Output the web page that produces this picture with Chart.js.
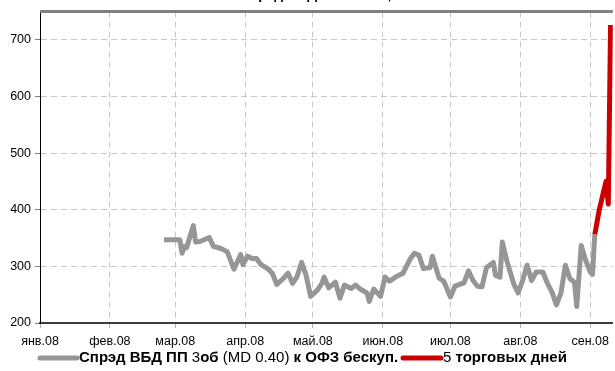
<!DOCTYPE html>
<html>
<head>
<meta charset="utf-8">
<script src="https://cdn.jsdelivr.net/npm/chart.js@4/dist/chart.umd.min.js"></script>
<style>
  html, body { margin: 0; padding: 0; background: #fff; }
  canvas { display: block; }
</style>
</head>
<body>
<canvas id="chart" width="615" height="371"></canvas>
<script>
// Данные (год 2008, даты в формате ММ-ДД)
const monthLabels = ['янв.08', 'фев.08', 'мар.08', 'апр.08', 'май.08', 'июн.08', 'июл.08', 'авг.08', 'сен.08'];
const monthStarts = ['01-01', '02-01', '03-01', '04-01', '05-01', '06-01', '07-01', '08-01', '09-01'];
const yTicks = [200, 300, 400, 500, 600, 700];

const spreadDates = [
    '02-25', '03-03', '03-04', '03-05', '03-06', '03-09', '03-10', '03-12', '03-16', '03-18',
    '03-21', '03-24', '03-27', '03-30', '03-31', '04-02', '04-04', '04-06', '04-08', '04-11',
    '04-13', '04-15', '04-18', '04-20', '04-22', '04-24', '04-26', '04-28', '04-30', '05-03',
    '05-05', '05-06', '05-08', '05-11', '05-13', '05-15', '05-18', '05-20', '05-22', '05-25',
    '05-26', '05-28', '05-31', '06-02', '06-04', '06-07', '06-10', '06-13', '06-15', '06-17',
    '06-19', '06-22', '06-23', '06-26', '06-28', '07-01', '07-03', '07-07', '07-09', '07-11',
    '07-13', '07-15', '07-17', '07-20', '07-21', '07-23', '07-24', '07-26', '07-29', '07-31',
    '08-02', '08-04', '08-06', '08-08', '08-11', '08-13', '08-15', '08-17', '08-19', '08-21',
    '08-23', '08-25', '08-26', '08-28', '08-30', '09-01', '09-02', '09-03'
];
const spreadValues = [
    347, 347, 323, 335, 333, 372, 343, 344, 351, 335,
    332, 326, 295, 321, 303, 318, 314, 314, 303, 296,
    288, 268, 279, 288, 270, 282, 307, 284, 247, 258,
    270, 281, 262, 272, 244, 267, 261, 267, 260, 253,
    238, 260, 247, 281, 274, 282, 288, 312, 323, 320,
    296, 298, 318, 279, 274, 246, 265, 271, 292, 275,
    265, 264, 298, 307, 284, 281, 343, 310, 270, 253,
    275, 302, 275, 290, 290, 270, 255, 232, 253, 302,
    278, 272, 229, 337, 310, 290, 286, 356
];

const lastDaysDates = ['09-03', '09-04', '09-05', '09-08', '09-09', '09-10'];
const lastDaysValues = [356, 378, 400, 450, 410, 726];

// день года от 1 января 2008
function dayOf(md) {
    const [m, d] = md.split('-').map(Number);
    return (Date.UTC(2008, m - 1, d) - Date.UTC(2008, 0, 1)) / 86400000;
}
const toPoints = (dates, values) => dates.map((d, i) => ({ x: dayOf(d), y: values[i] }));

const FONT = "'Liberation Sans', Arial, sans-serif";
Chart.defaults.font.family = FONT;
Chart.defaults.font.size = 12.5;
Chart.defaults.color = '#000';

const GRAY = '#969696';
const RED = '#cc0000';

// верхняя рамка + обрезанный заголовок
const framePlugin = {
    id: 'frame',
    afterDraw(chart) {
        const { ctx, chartArea } = chart;
        ctx.save();
        ctx.strokeStyle = '#808080';
        ctx.lineWidth = 3;
        ctx.beginPath();
        ctx.moveTo(chartArea.left, chartArea.top);
        ctx.lineTo(chartArea.right, chartArea.top);
        ctx.stroke();

        ctx.fillStyle = '#000';
        ctx.font = 'bold 14px ' + FONT;
        ctx.textAlign = 'center';
        ctx.textBaseline = 'alphabetic';
        ctx.fillText('Спрэд ВБД ПП к ОФЗ, б.п.', 330, -1);
        ctx.restore();
    }
};

// легенда со смешанным начертанием
const legendItems = [
    { color: GRAY, lineFrom: 40, lineTo: 77, parts: [
        ['Спрэд ВБД ПП ', true], ['3', false], ['об ', true], ['(MD 0.40) ', false], ['к ОФЗ бескуп.', true]
    ] },
    { color: RED, lineFrom: 403, lineTo: 441, parts: [['5 ', false], ['торговых дней', true]] }
];

const legendPlugin = {
    id: 'richLegend',
    afterDraw(chart) {
        const ctx = chart.ctx;
        const y = 358;
        ctx.save();
        legendItems.forEach(item => {
            ctx.strokeStyle = item.color;
            ctx.lineWidth = 5;
            ctx.lineCap = 'round';
            ctx.beginPath();
            ctx.moveTo(item.lineFrom, y);
            ctx.lineTo(item.lineTo, y);
            ctx.stroke();

            let x = item.lineTo + 2;
            ctx.textBaseline = 'middle';
            ctx.textAlign = 'left';
            ctx.fillStyle = '#000';
            item.parts.forEach(([text, bold]) => {
                ctx.font = (bold ? 'bold ' : '') + '15px ' + FONT;
                ctx.fillText(text, x, y);
                x += ctx.measureText(text).width;
            });
        });
        ctx.restore();
    }
};

const gridDash = [6, 4];

new Chart(document.getElementById('chart').getContext('2d'), {
    type: 'line',
    data: {
        datasets: [
            {
                label: 'Спрэд ВБД ПП 3об (MD 0.40) к ОФЗ бескуп.',
                data: toPoints(spreadDates, spreadValues),
                borderColor: GRAY,
                borderWidth: 5,
                borderJoinStyle: 'round',
                pointRadius: 0,
                tension: 0
            },
            {
                label: '5 торговых дней',
                data: toPoints(lastDaysDates, lastDaysValues),
                borderColor: RED,
                borderWidth: 5,
                borderJoinStyle: 'round',
                pointRadius: 0,
                tension: 0
            }
        ]
    },
    options: {
        responsive: false,
        animation: false,
        events: [],
        layout: { padding: { top: 10, bottom: 18, left: 0, right: 0 } },
        plugins: {
            legend: { display: false },
            tooltip: { enabled: false },
            title: { display: false }
        },
        scales: {
            x: {
                type: 'linear',
                min: 0,
                max: 254,
                afterBuildTicks(scale) {
                    scale.ticks = monthStarts.map(d => ({ value: dayOf(d) }));
                },
                afterFit(scale) { scale.height = 30; },
                ticks: {
                    autoSkip: false,
                    maxRotation: 0,
                    padding: 6,
                    callback: (value, index) => monthLabels[index]
                },
                grid: {
                    color: '#c8c8c8',
                    tickColor: '#b0b0b0',
                    tickLength: 5,
                    tickBorderDash: []
                },
                border: { color: '#3c3c3c', width: 2, dash: gridDash }
            },
            y: {
                min: 200,
                max: 750,
                afterBuildTicks(scale) {
                    scale.ticks = yTicks.map(v => ({ value: v }));
                },
                afterFit(scale) { scale.width = 40; },
                ticks: { padding: 4 },
                grid: {
                    color: '#c8c8c8',
                    tickColor: '#808080',
                    tickLength: 5,
                    tickBorderDash: []
                },
                border: { color: '#000', width: 1, dash: gridDash }
            }
        }
    },
    plugins: [framePlugin, legendPlugin]
});
</script>
</body>
</html>
